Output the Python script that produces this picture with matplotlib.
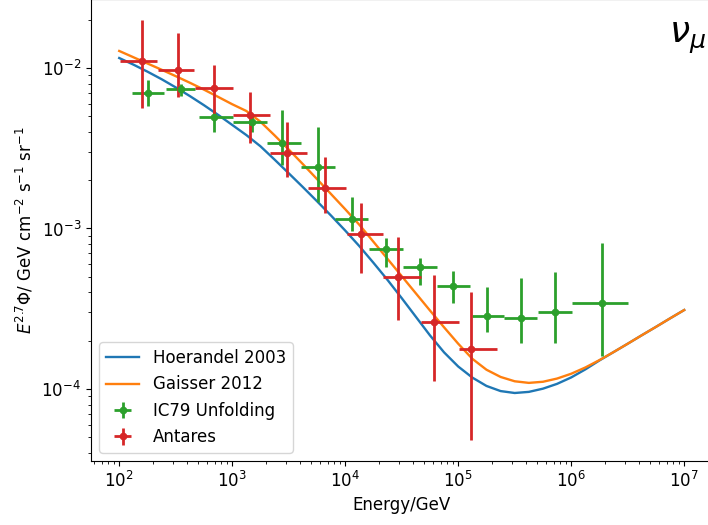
import matplotlib
matplotlib.use("Agg")
import matplotlib.pyplot as plt
import numpy as np

plt.rcParams['font.size'] = 12

# Model curves, read on a log10(E/GeV) grid; values are log10(E^2.7 * flux)
model_log10_energy = [2.0, 2.125, 2.25, 2.375, 2.5, 2.625, 2.75, 2.875,
                      3.0, 3.125, 3.25, 3.375, 3.5, 3.625, 3.75, 3.875,
                      4.0, 4.125, 4.25, 4.375, 4.5, 4.625, 4.75, 4.875,
                      5.0, 5.125, 5.25, 5.375, 5.5, 5.625, 5.75, 5.875,
                      6.0, 6.125, 6.25, 6.375, 6.5, 6.625, 6.75, 6.875, 7.0]
hoerandel_log10 = [-1.938, -1.979, -2.023, -2.070, -2.121, -2.175, -2.232, -2.292,
                   -2.355, -2.418, -2.488, -2.571, -2.656, -2.742, -2.830, -2.920,
                   -3.013, -3.110, -3.214, -3.321, -3.434, -3.550, -3.666, -3.772,
                   -3.860, -3.929, -3.981, -4.013, -4.025, -4.018, -3.998, -3.968,
                   -3.928, -3.878, -3.822, -3.770, -3.718, -3.665, -3.613, -3.560, -3.508]
gaisser_log10 = [-1.894, -1.933, -1.972, -2.011, -2.051, -2.092, -2.135, -2.180,
                 -2.226, -2.268, -2.335, -2.420, -2.508, -2.599, -2.692, -2.786,
                 -2.880, -2.977, -3.083, -3.190, -3.297, -3.404, -3.511, -3.616,
                 -3.718, -3.812, -3.880, -3.925, -3.952, -3.962, -3.955, -3.935,
                 -3.905, -3.866, -3.820, -3.770, -3.718, -3.665, -3.613, -3.560, -3.508]

# IC79 unfolding
ic_e = [181, 354, 693, 1503, 2770, 5770, 11530, 23070, 46100, 90300,
        180700, 361000, 721000, 1.88e6]
ic_elo = [130, 261, 511, 1020, 2040, 4080, 8170, 16300, 32600, 65200,
          133000, 255000, 511000, 1.02e6]
ic_ehi = [250, 471, 1020, 2040, 4080, 8170, 16000, 32600, 65200, 128000,
          255000, 500000, 1.02e6, 3.19e6]
ic_v = [6.98e-3, 7.40e-3, 4.96e-3, 4.61e-3, 3.41e-3, 2.42e-3, 1.146e-3, 7.45e-4,
        5.75e-4, 4.38e-4, 2.85e-4, 2.77e-4, 3.02e-4, 3.44e-4]
ic_vhi = [8.41e-3, 7.95e-3, 5.47e-3, 5.09e-3, 5.47e-3, 4.28e-3, 1.57e-3, 8.73e-4,
          6.55e-4, 5.43e-4, 4.33e-4, 4.92e-4, 5.36e-4, 8.13e-4]
ic_vlo = [5.80e-3, 6.70e-3, 3.99e-3, 3.99e-3, 2.49e-3, 1.46e-3, 9.64e-4, 5.75e-4,
          4.45e-4, 3.44e-4, 2.27e-4, 1.94e-4, 1.94e-4, 1.61e-4]

# Antares
an_e = [160, 333, 693, 1442, 3070, 6650, 13900, 29400, 61400, 130000]
an_elo = [102, 221, 471, 1020, 2170, 4710, 10400, 21700, 47100, 102000]
an_ehi = [217, 461, 1020, 2170, 4610, 10200, 21700, 47100, 102000, 221000]
an_v = [1.106e-2, 9.72e-3, 7.50e-3, 5.09e-3, 2.95e-3, 1.79e-3, 9.25e-4, 4.99e-4,
        2.61e-4, 1.77e-4]
an_vhi = [1.99e-2, 1.65e-2, 1.04e-2, 7.09e-3, 4.61e-3, 2.79e-3, 1.44e-3, 8.85e-4,
          5.13e-4, 4.02e-4]
an_vlo = [5.64e-3, 6.60e-3, 4.81e-3, 3.41e-3, 2.09e-3, 1.25e-3, 5.28e-4, 2.69e-4,
          1.12e-4, 4.81e-5]


def err(c, lo, hi):
    c = np.asarray(c, float)
    return [c - np.asarray(lo, float), np.asarray(hi, float) - c]


model_energy = np.power(10.0, model_log10_energy)
hoerandel = np.power(10.0, hoerandel_log10)
gaisser = np.power(10.0, gaisser_log10)

fig = plt.figure(figsize=(7.08, 5.25), dpi=100)
ax = fig.add_axes([0.1285, 0.1219, 0.8778, 0.88])

ax.plot(model_energy, hoerandel, color='tab:blue', lw=1.7, label='Hoerandel 2003')
ax.plot(model_energy, gaisser, color='tab:orange', lw=1.7, label='Gaisser 2012')
ax.errorbar(ic_e, ic_v, xerr=err(ic_e, ic_elo, ic_ehi), yerr=err(ic_v, ic_vlo, ic_vhi),
            fmt='o', color='tab:green', ms=4.5, elinewidth=2, label='IC79 Unfolding')
ax.errorbar(an_e, an_v, xerr=err(an_e, an_elo, an_ehi), yerr=err(an_v, an_vlo, an_vhi),
            fmt='o', color='tab:red', ms=4.5, elinewidth=2, label='Antares')

ax.set_xscale('log')
ax.set_yscale('log')
ax.set_xlabel('Energy/GeV')
ax.set_ylabel(r'$E^{2.7}\Phi$/ GeV cm$^{-2}$ s$^{-1}$ sr$^{-1}$')
ax.legend(loc='lower left')

fig.text(0.998, 0.961, r'$\nu_\mu$', fontsize=26, ha='right', va='top')

fig.savefig('out.png', dpi=100)
